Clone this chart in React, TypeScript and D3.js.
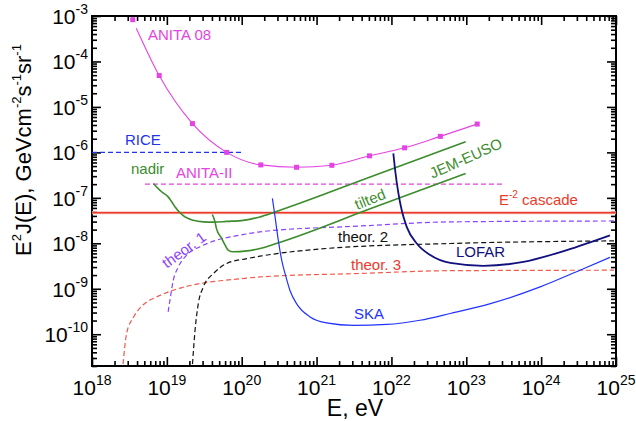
import React, { useEffect, useRef } from 'react';
import * as d3 from 'd3';

type Pt = [number, number];

// energies in eV, fluxes E^2 J(E) in GeV cm^-2 s^-1 sr^-1
const energyDecades = [18, 19, 20, 21, 22, 23, 24, 25];
const fluxDecades = [-3, -4, -5, -6, -7, -8, -9, -10];

const anita08Markers: Pt[] = [
  [3.5e18, 8.3e-4], [7.9e18, 4.9e-5], [2.2e19, 4.3e-6], [6.3e19, 1.0e-6],
  [1.8e20, 5.3e-7], [5.4e20, 4.7e-7], [1.6e21, 5.2e-7], [5.1e21, 8.4e-7],
  [1.5e22, 1.26e-6], [4.5e22, 2.25e-6], [1.4e23, 4.2e-6],
];
const anita08Line: Pt[] = [[3.9e18, 5.4e-4], ...anita08Markers.slice(1)];

const riceLimit: Pt[] = [[1e18, 1e-6], [1e20, 1e-6]];
const anita2Limit: Pt[] = [[5.1e18, 2.0e-7], [3.0e23, 2.0e-7]];
const cascadeLimit: Pt[] = [[1e18, 4.7e-8], [1e25, 4.7e-8]];

const jemNadir: Pt[] = [
  [6.6e18, 2.07e-7], [8.5e18, 1.36e-7], [1.04e19, 1.05e-7], [1.16e19, 8.2e-8],
  [1.29e19, 6.3e-8], [1.5e19, 4.7e-8], [1.75e19, 3.8e-8], [2.25e19, 3.2e-8],
  [3.07e19, 2.96e-8], [4.2e19, 2.92e-8], [6.3e19, 3.03e-8], [1.05e20, 3.2e-8],
  [1.75e20, 3.8e-8], [2.8e20, 4.9e-8], [5.2e21, 2.87e-7], [9.8e22, 1.71e-6],
];

const jemTilted: Pt[] = [
  [4.05e19, 4.3e-8], [4.4e19, 2.96e-8], [4.6e19, 2.1e-8], [5.4e19, 1.28e-8],
  [6.0e19, 9.1e-9], [6.6e19, 7.1e-9], [7.7e19, 6.5e-9], [1.17e20, 6.8e-9],
  [1.75e20, 7.7e-9], [2.9e20, 9.9e-9], [5.3e21, 5.8e-8], [9.8e22, 3.45e-7],
];

const ska: Pt[] = [
  [2.57e20, 9.7e-8], [2.79e20, 3.8e-8], [3.08e20, 1.17e-8], [3.42e20, 4.25e-9],
  [3.79e20, 2.17e-9], [4.4e20, 9.3e-10], [5.4e20, 4.7e-10], [8.2e20, 2.4e-10],
  [1.36e21, 1.77e-10], [3.1e21, 1.56e-10], [8.7e21, 1.64e-10], [2.4e22, 2.03e-10],
  [6.1e22, 2.86e-10], [2.1e23, 4.7e-10], [9.7e23, 1.1e-9], [3.3e24, 2.56e-9],
  [8.3e24, 4.9e-9],
];

const lofar: Pt[] = [
  [1.06e22, 9.5e-7], [1.12e22, 4.1e-7], [1.24e22, 1.25e-7], [1.37e22, 5.4e-8],
  [1.6e22, 2.3e-8], [2.18e22, 9.9e-9], [3.3e22, 5.5e-9], [6.1e22, 3.7e-9],
  [1.69e23, 3.2e-9], [5.8e23, 3.9e-9], [2.2e24, 7.1e-9], [8.3e24, 1.5e-8],
];

const theor1: Pt[] = [
  [1.04e19, 3.1e-10], [1.1e19, 5.6e-10], [1.22e19, 1.55e-9], [1.42e19, 3.0e-9],
  [1.84e19, 5.5e-9], [2.77e19, 8.4e-9], [4.6e19, 1.17e-8], [9.5e19, 1.51e-8],
  [1.75e20, 1.79e-8], [3.8e21, 2.4e-8], [6.1e22, 2.96e-8], [9.4e24, 3.1e-8],
];

const theor2: Pt[] = [
  [2.2e19, 2.2e-11], [2.38e19, 1.22e-10], [2.63e19, 4.7e-10], [3.07e19, 1.1e-9],
  [4.2e19, 2.17e-9], [6.3e19, 3.6e-9], [1.17e20, 4.6e-9], [1.75e20, 5.2e-9],
  [1.36e21, 7.7e-9], [6.1e22, 9.9e-9], [9.4e24, 1.13e-8],
];

const theor3: Pt[] = [
  [2.6e18, 2.2e-11], [2.9e18, 1.04e-10], [3.6e18, 2.4e-10], [4.8e18, 4.4e-10],
  [7.3e18, 6.6e-10], [1.22e19, 9.3e-10], [2.77e19, 1.3e-9], [7.7e19, 1.6e-9],
  [1.75e20, 1.82e-9], [3.8e21, 2.17e-9], [6.1e22, 2.5e-9], [9.4e24, 2.56e-9],
];

const FONT = "Arial, 'Liberation Sans', Helvetica, sans-serif";
const MAGENTA = '#e444e4';
const GREEN = '#3c8c2c';
const RED = '#ec3a2a';

export default function App() {
  const chart = useRef<SVGSVGElement>(null);

  useEffect(() => {
    const svg = d3.select(chart.current);
    svg.selectAll('*').remove();

    const x = d3.scaleLog().domain([1e18, 1e25]).range([92, 616]);
    const y = d3.scaleLog().domain([2e-11, 1e-3]).range([366, 16]);

    const line = d3.line<Pt>()
      .x(d => x(d[0]))
      .y(d => y(d[1]))
      .curve(d3.curveMonotoneX);

    const xMajor = energyDecades.map(d => Math.pow(10, d));
    const xMinor: number[] = [];
    energyDecades.slice(0, -1).forEach(d => {
      for (let m = 2; m <= 9; m++) xMinor.push(m * Math.pow(10, d));
    });
    const yMajor = fluxDecades.map(d => Math.pow(10, d));
    const yMinor: number[] = [];
    for (let d = -11; d < -3; d++) {
      for (let m = 2; m <= 9; m++) {
        const v = m * Math.pow(10, d);
        if (v >= 2e-11 && v < 1e-3) yMinor.push(v);
      }
    }

    const axisStyle = (g: any) => {
      g.select('.domain').remove();
      g.selectAll('line').attr('stroke', '#000').attr('stroke-width', 1.6);
      g.selectAll('text').remove();
    };

    // ticks, all pointing inward
    const axes: [any, string][] = [
      [d3.axisBottom(x), 'translate(0,366)'],
      [d3.axisTop(x), 'translate(0,16)'],
    ];
    axes.forEach(([ax, tr]) => {
      svg.append('g').attr('transform', tr)
        .call(ax.tickValues(xMajor).tickSize(-9).tickFormat(() => '')).call(axisStyle);
      svg.append('g').attr('transform', tr)
        .call(ax.tickValues(xMinor).tickSize(-5).tickFormat(() => '')).call(axisStyle);
    });
    const yAxes: [any, string][] = [
      [d3.axisLeft(y), 'translate(92,0)'],
      [d3.axisRight(y), 'translate(616,0)'],
    ];
    yAxes.forEach(([ax, tr]) => {
      svg.append('g').attr('transform', tr)
        .call(ax.tickValues(yMajor).tickSize(-9).tickFormat(() => '')).call(axisStyle);
      svg.append('g').attr('transform', tr)
        .call(ax.tickValues(yMinor).tickSize(-5).tickFormat(() => '')).call(axisStyle);
    });

    svg.append('rect')
      .attr('x', 92).attr('y', 16).attr('width', 524).attr('height', 350)
      .attr('fill', 'none').attr('stroke', '#000').attr('stroke-width', 2);

    // tick labels
    energyDecades.forEach(d => {
      const t = svg.append('text')
        .attr('x', x(Math.pow(10, d))).attr('y', 395)
        .attr('text-anchor', 'middle')
        .attr('font-family', FONT).attr('font-size', 21);
      t.append('tspan').text('10');
      t.append('tspan').attr('dy', -10).attr('font-size', 14).text(String(d));
    });
    fluxDecades.forEach(d => {
      const t = svg.append('text')
        .attr('x', 88).attr('y', y(Math.pow(10, d)) + 8)
        .attr('text-anchor', 'end')
        .attr('font-family', FONT).attr('font-size', 21);
      t.append('tspan').text('10');
      t.append('tspan').attr('dy', -10).attr('font-size', 14).text(String(d));
    });

    // axis titles
    svg.append('text')
      .attr('x', 355).attr('y', 416).attr('text-anchor', 'middle')
      .attr('font-family', FONT).attr('font-size', 23).text('E, eV');

    const yt = svg.append('text')
      .attr('transform', 'translate(31,150) rotate(-90)')
      .attr('text-anchor', 'middle')
      .attr('font-family', FONT).attr('font-size', 22);
    const sup = (s: string) => yt.append('tspan').attr('dy', -10).attr('font-size', 13).text(s);
    const base = (s: string) => yt.append('tspan').attr('dy', 10).text(s);
    yt.append('tspan').text('E');
    sup('2');
    base('J(E), GeVcm');
    sup('-2');
    base('s');
    sup('-1');
    base('sr');
    sup('-1');

    // curves
    const draw = (data: Pt[], color: string, width: number, dash?: string) =>
      svg.append('path')
        .datum(data)
        .attr('d', line)
        .attr('fill', 'none')
        .attr('stroke', color)
        .attr('stroke-width', width)
        .attr('stroke-dasharray', dash || null);

    draw(theor3, '#f05a4a', 1.2, '5,3');
    draw(theor2, '#111', 1.2, '5,3');
    draw(theor1, '#8a44ff', 1.2, '5,3');
    draw(riceLimit, '#2233ee', 1.2, '5,3');
    draw(anita2Limit, MAGENTA, 1.2, '5,3');
    draw(cascadeLimit, '#f8c4bc', 3.2);
    draw(cascadeLimit, RED, 1.6);
    draw(jemNadir, GREEN, 1.6);
    draw(jemTilted, GREEN, 1.6);
    draw(ska, '#2233ff', 1.2);
    draw(lofar, '#10107e', 1.8);
    draw(anita08Line, MAGENTA, 1.1);

    svg.append('g').selectAll('rect')
      .data(anita08Markers)
      .enter().append('rect')
      .attr('x', d => x(d[0]) - 2.5)
      .attr('y', d => y(d[1]) - 2.5)
      .attr('width', 5).attr('height', 5)
      .attr('fill', MAGENTA);

    // labels
    const label = (s: string, lx: number, ly: number, color: string, rot = 0, anchor = 'start') =>
      svg.append('text')
        .attr('transform', `translate(${lx},${ly}) rotate(${rot})`)
        .attr('text-anchor', anchor)
        .attr('font-family', FONT).attr('font-size', 15)
        .attr('fill', color).text(s);

    label('ANITA 08', 148, 40, MAGENTA);
    label('RICE', 125, 145, '#2233ee');
    label('nadir', 131, 174, GREEN);
    label('ANITA-II', 176, 178, MAGENTA);
    label('theor. 2', 338, 242, '#111');
    label('theor. 3', 351, 270, '#ec3a2a');
    label('SKA', 354, 319, '#2233ff');
    label('LOFAR', 456, 257, '#10107e');
    label('tilted', 372, 204, GREEN, -22, 'middle');
    label('JEM-EUSO', 468, 163, GREEN, -24, 'middle');
    label('theor. 1', 187, 254, '#8a44ff', -36, 'middle');

    const casc = svg.append('text')
      .attr('x', 499).attr('y', 205)
      .attr('font-family', FONT).attr('font-size', 15).attr('fill', RED);
    casc.append('tspan').text('E');
    casc.append('tspan').attr('dy', -7).attr('font-size', 10).text('-2');
    casc.append('tspan').attr('dy', 7).text(' cascade');
  }, []);

  return (
    <svg
      ref={chart}
      width={636}
      height={421}
      style={{ position: 'absolute', left: 0, top: 0, background: '#fff' }}
    />
  );
}
